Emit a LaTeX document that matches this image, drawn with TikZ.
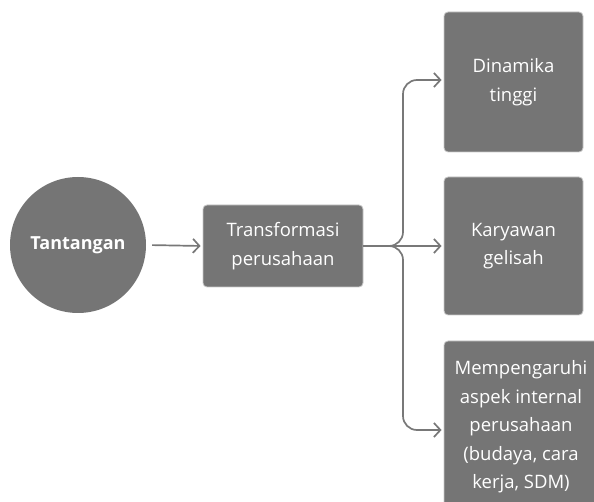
\documentclass[tikz,border=0pt]{standalone}
\usepackage{fontspec}
\setmainfont{Open Sans}
\usetikzlibrary{arrows.meta}
\definecolor{boxgray}{HTML}{757575}
\definecolor{linegray}{HTML}{787878}
\definecolor{edgegray}{HTML}{C8C8C8}
\begin{document}
\begin{tikzpicture}[x=1pt,y=-1pt,
  boxstyle/.style={fill=boxgray, draw=edgegray, line width=0.8pt, rounded corners=4pt, text=white, align=center, inner sep=0pt, font=\fontsize{18.5}{28.5}\selectfont},
  circstyle/.style={circle, fill=boxgray, text=white, inner sep=0pt, minimum size=136pt, font=\fontsize{18}{20}\selectfont\bfseries},
  conn/.style={draw=linegray, line width=1.7pt, -{Straight Barb[length=6.5pt,width=14pt,line width=1.7pt]}, shorten >=2pt}
]
\useasboundingbox (0,0) rectangle (594,502);
\node[circstyle] (t) at (78,245) {Tantangan};
\node[boxstyle, minimum width=160pt, minimum height=82pt] (tr) at (283,246) {Transformasi\\perusahaan};
\node[boxstyle, minimum width=139pt, minimum height=140pt] (b1) at (513.5,82) {Dinamika\\tinggi};
\node[boxstyle, minimum width=139pt, minimum height=138pt] (b2) at (513.5,246) {Karyawan\\gelisah};
\node[boxstyle, minimum width=154pt, minimum height=172pt] (b3) at (521,427) {Mempengaruhi\\aspek internal\\perusahaan\\(budaya, cara\\kerja, SDM)};
\coordinate (k) at (403,246);
\draw[conn, shorten <=6pt] (t.east) -- (tr.west);
\draw[conn] (tr.east) -- (b2.west);
\draw[conn, rounded corners=14pt] (tr.east) -- (k) |- ([yshift=2pt]b1.west);
\draw[conn, rounded corners=14pt] (tr.east) -- (k) |- ([yshift=-3pt]b3.west);
\end{tikzpicture}
\end{document}
